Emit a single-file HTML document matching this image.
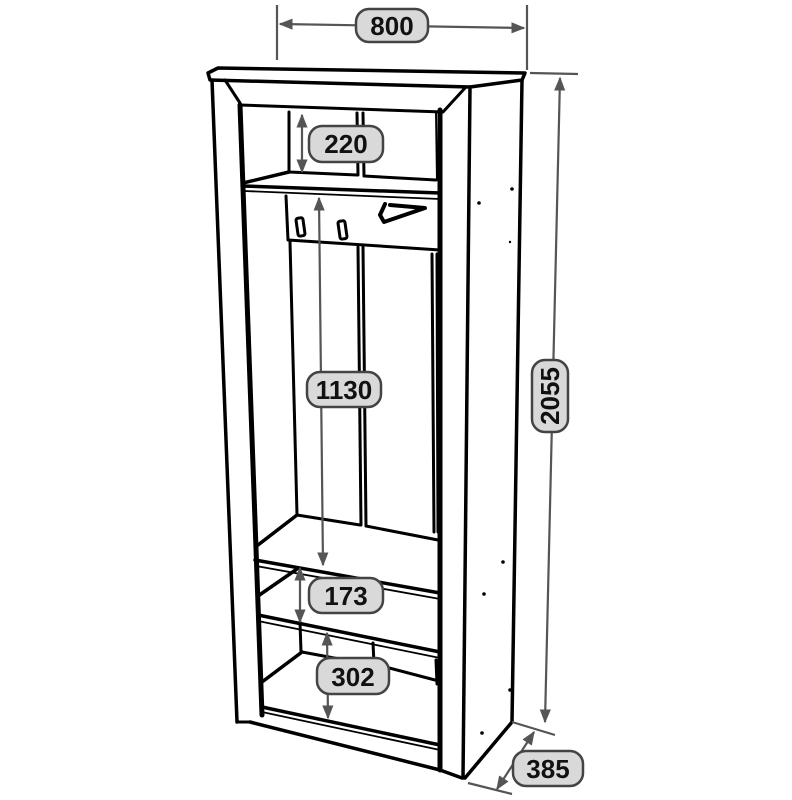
<!DOCTYPE html>
<html><head><meta charset="utf-8"><style>
html,body{margin:0;padding:0;background:#fff;}
svg{display:block;}
.k{stroke:#000;fill:none;stroke-linecap:round;stroke-linejoin:round;}
.d{stroke:#555;fill:none;stroke-width:2.2;}
.lb{fill:#d9d9d9;stroke:#444;stroke-width:2.5;}
.t{font-family:"Liberation Sans",sans-serif;font-weight:bold;font-size:26px;fill:#111;text-anchor:middle;}
</style></head><body>
<svg width="792" height="800" viewBox="0 0 792 800">
<defs>
<marker id="b" viewBox="0 0 10 10" refX="9" refY="5" markerWidth="14" markerHeight="14" orient="auto-start-reverse" markerUnits="userSpaceOnUse"><path d="M0,1 L10,5 L0,9 z" fill="#555"/></marker>
</defs>
<!-- top board -->
<path class="k" stroke-width="3.5" d="M208,73 L218,68 L525,73 L522,80 L470,87 L210,80 Z"/>
<!-- left panel -->
<path class="k" stroke-width="3.5" d="M212,80 L237,722"/>
<path class="k" stroke-width="5" d="M240,105 L262,715"/>
<path class="k" stroke-width="3" d="M225,80 L240,103"/>
<path class="k" stroke-width="3" d="M237,722 L250,722"/>
<!-- top frame -->
<path class="k" stroke-width="3" d="M240,105 L443,112 L465,88"/>
<!-- right front panel -->
<path class="k" stroke-width="5" d="M440,110 L440,770"/>
<path class="k" stroke-width="3.5" d="M470,87 L463,778"/>
<path class="k" stroke-width="2" d="M436,112 L437,180"/>
<!-- right side -->
<path class="k" stroke-width="3.5" d="M522,80 L512,722 L465,778"/>
<circle cx="479" cy="203" r="1.8"/><circle cx="512" cy="189" r="1.8"/><circle cx="510" cy="242" r="1.2"/>
<circle cx="503" cy="562" r="1.8"/><circle cx="484" cy="594" r="1.8"/><circle cx="482" cy="733" r="1.8"/><circle cx="510" cy="690" r="1.8"/>
<!-- upper compartment -->
<path class="k" stroke-width="3" d="M289,112 L289,172 M357,113 L358,175 M363,113 L364,176 M289,172 L357,175 M364,176 L436,180"/>
<path class="k" stroke-width="3.5" d="M243,183 L289,172"/>
<path class="k" stroke-width="3.5" d="M243,186 L440,193"/>
<path class="k" stroke-width="1.8" d="M244,191 L440,199"/>
<!-- hook panel -->
<path class="k" stroke-width="3" d="M286,196 L288,240 L440,250"/>
<rect x="297" y="218" width="7" height="18" rx="2" class="k" stroke-width="3" transform="rotate(-8 300 227)"/>
<rect x="339" y="221" width="7" height="18" rx="2" class="k" stroke-width="3" transform="rotate(-8 342 230)"/>
<path class="k" stroke-width="4" d="M385,204 L380,215 L384,222 L425,208 L390,205"/>
<!-- back -->
<path class="k" stroke-width="3" d="M290,242 L297,515 M358,247 L361,525 M363,247 L366,526 M432,254 L434,532 M437,254 L438,532"/>
<path class="k" stroke-width="3" d="M297,515 L360,525 M366,526 L438,540"/>
<!-- shelves -->
<path class="k" stroke-width="3.5" d="M258,545 L297,515"/>
<path class="k" stroke-width="3.5" d="M255,560 L440,593"/>
<path class="k" stroke-width="1.8" d="M256,566 L440,599"/>
<path class="k" stroke-width="3.5" d="M258,596 L297,569"/>
<path class="k" stroke-width="3.5" d="M258,615 L440,652"/>
<path class="k" stroke-width="1.8" d="M258,621 L440,658"/>
<path class="k" stroke-width="3" d="M300,622 L301,652 M302,652 L372,665 M373,643 L374,664 M378,665 L435,680 M436,660 L437,684"/>
<path class="k" stroke-width="3.5" d="M262,682 L302,652"/>
<path class="k" stroke-width="3.5" d="M262,707 L440,745"/>
<path class="k" stroke-width="1.8" d="M262,712 L440,750"/>
<path class="k" stroke-width="3.5" d="M250,722 L440,770 L462,778"/>
<!-- dimensions -->
<path class="d" d="M277,5 L277,60 M527,5 L527,70"/>
<path class="d" d="M280,24 L524,28" marker-start="url(#b)" marker-end="url(#b)"/>
<path class="d" d="M530,73 L578,74"/>
<path class="d" d="M560,78 L545,722" marker-start="url(#b)" marker-end="url(#b)"/>
<path class="d" d="M512,722 L555,735 M468,783 L512,794"/>
<path class="d" d="M534,732 L497,789" marker-start="url(#b)" marker-end="url(#b)"/>
<path class="d" d="M302,115 L302,172" marker-start="url(#b)" marker-end="url(#b)"/>
<path class="d" d="M319,198 L323,565" marker-start="url(#b)" marker-end="url(#b)"/>
<path class="d" d="M300,568 L300,622" marker-start="url(#b)" marker-end="url(#b)"/>
<path class="d" d="M327,633 L328,718" marker-start="url(#b)" marker-end="url(#b)"/>
<!-- labels -->
<rect class="lb" x="356" y="9" width="72" height="33" rx="13"/><text class="t" x="392" y="35">800</text>
<rect class="lb" x="309" y="126" width="74" height="36" rx="13"/><text class="t" x="346" y="153">220</text>
<rect class="lb" x="307" y="372" width="74" height="35" rx="13"/><text class="t" x="344" y="399">1130</text>
<rect class="lb" x="309" y="578" width="74" height="35" rx="13"/><text class="t" x="346" y="605">173</text>
<rect class="lb" x="317" y="658" width="72" height="36" rx="13"/><text class="t" x="353" y="686">302</text>
<rect class="lb" x="513" y="751" width="70" height="35" rx="13"/><text class="t" x="548" y="778">385</text>
<rect class="lb" x="532" y="360" width="36" height="72" rx="13"/><text class="t" x="0" y="0" transform="translate(559,396) rotate(-90)">2055</text>
</svg>
</body></html>
